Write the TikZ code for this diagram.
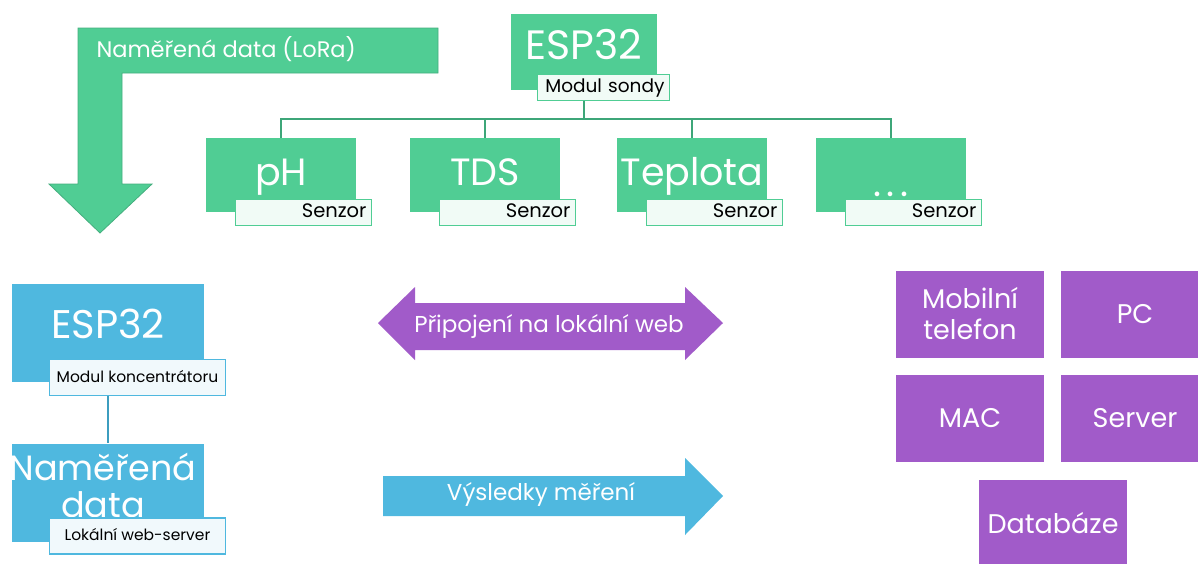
\documentclass[tikz,border=0pt]{standalone}
\usepackage{fontspec}
\setmainfont{Poppins}
\definecolor{grn}{HTML}{50CD94}
\definecolor{grnline}{HTML}{3DA679}
\definecolor{blu}{HTML}{4FB8DF}
\definecolor{bluline}{HTML}{3C9DBF}
\definecolor{purp}{HTML}{A15BC9}
\begin{document}
\begin{tikzpicture}[x=1pt,y=-1pt,
    gbox/.style={fill=grn,minimum width=150pt,minimum height=74pt,inner sep=0pt,text=white,
      font=\fontsize{38}{38}\selectfont,text height=28pt,text depth=8pt},
    bbox/.style={fill=blu,minimum width=192pt,minimum height=98pt,inner sep=0pt,text=white,
      font=\fontsize{40}{37}\selectfont,align=center},
    pbox/.style={fill=purp,minimum width=148pt,minimum height=87pt,inner sep=0pt,text=white,
      font=\fontsize{27}{31}\selectfont,align=center},
    gtag/.style={draw=grn,line width=1.5pt,fill=grn!8!white,text width=#1,align=right,
      inner xsep=5pt,inner ysep=0pt,minimum height=26pt,text height=14pt,text depth=4pt,
      font=\fontsize{19.5}{19.5}\selectfont},
    gtag/.default=126pt,
    btag/.style={draw=blu,line width=1.5pt,fill=blu!8!white,minimum width=176pt,
      inner xsep=3pt,inner ysep=0pt,minimum height=36pt,text height=14pt,text depth=4pt,
      font=\fontsize{15.5}{15.5}\selectfont},
    gline/.style={draw=grnline,line width=2pt},
    bline/.style={draw=bluline,line width=2pt},
    atext/.style={text=white,font=\fontsize{23}{23}\selectfont,anchor=base}]
  \useasboundingbox (0,0) rectangle (1198,563);
  \clip (0,0) rectangle (1198,563);

  \fill[grn,draw=grn!85!black,line width=0.8pt] (78,28) -- (438,28) -- (438,73) -- (122,73)
    -- (122,184) -- (152,184) -- (100,233) -- (49,184) -- (78,184) -- cycle;
  \node[atext,font=\fontsize{22.5}{22.5}\selectfont,anchor=base west] (lora) at (93,57) {Naměřená data (LoRa)};

  \node[gbox,minimum width=146pt,minimum height=76pt,text depth=13pt,
    font=\fontsize{41}{41}\selectfont] (esp) at (584,52) {ESP32};
  \node[gbox] (ph) at (281,175) {pH};
  \node[gbox] (tds) at (485,175) {TDS};
  \node[gbox] (tep) at (692,175) {Teplota};
  \node[gbox,text height=50pt] (more) at (891,175) {.\hspace{6pt}.\hspace{6pt}.};

  \draw[gline] (esp.south) -- ++(0,29) -| (ph.north);
  \draw[gline] (esp.south) -- ++(0,29) -| (tds.north);
  \draw[gline] (esp.south) -- ++(0,29) -| (tep.north);
  \draw[gline] (esp.south) -- ++(0,29) -| (more.north);

  \node[gtag=122pt,anchor=south east,font=\fontsize{18.5}{18.5}\selectfont] (espTag)
    at ([shift={(13,11)}]esp.south east) {Modul sondy};
  \node[gtag,anchor=south east] (phTag) at ([shift={(16,14)}]ph.south east) {Senzor};
  \node[gtag,anchor=south east] (tdsTag) at ([shift={(16,14)}]tds.south east) {Senzor};
  \node[gtag,anchor=south east] (tepTag) at ([shift={(16,14)}]tep.south east) {Senzor};
  \node[gtag,anchor=south east] (moreTag) at ([shift={(16,14)}]more.south east) {Senzor};

  \node[bbox,text height=29pt,text depth=19pt] (hub) at (108,333) {ESP32};
  \node[bbox] (data) at (108,492.5) {};
  \node[text=white,font=\fontsize{35}{37}\selectfont,align=center] (dataText) at (103,485) {Naměřená\\data};
  \draw[bline] (hub.south) -- (data.north);
  \node[btag,anchor=south east] (hubTag) at ([shift={(22,14)}]hub.south east) {Modul koncentrátoru};
  \node[btag,anchor=south east] (dataTag) at ([shift={(22,13)}]data.south east) {Lokální web-server};

  \fill[purp] (378,323) -- (415,287) -- (415,303) -- (685,303) -- (685,287) -- (723,323)
    -- (685,360) -- (685,350) -- (415,350) -- (415,360) -- cycle;
  \node[atext] (link) at (549,332) {Připojení na lokální web};
  \fill[blu] (383,476) -- (685,476) -- (685,458) -- (723,496) -- (685,535) -- (685,516)
    -- (383,516) -- cycle;
  \node[atext] (result) at (541,500) {Výsledky měření};

  \node[pbox] (mob) at (970,314) {Mobilní\\telefon};
  \node[pbox] (pc) at (1135,314) {PC};
  \node[pbox] (mac) at (970,418.5) {MAC};
  \node[pbox] (srv) at (1135,418.5) {Server};
  \node[pbox] (db) at (1053,523) {Databáze};
\end{tikzpicture}
\end{document}
